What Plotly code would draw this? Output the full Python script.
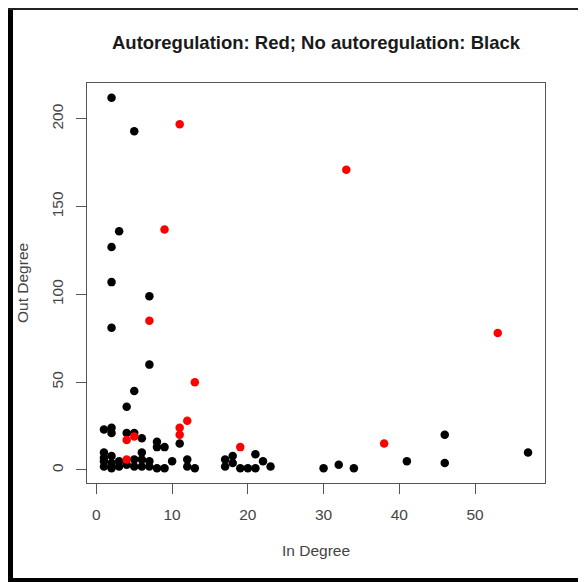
import plotly.graph_objects as go

# ---- data ----
black_in = [2, 5, 3, 2, 2, 2, 7, 7, 5, 4,
            1, 2, 2, 4, 5, 6, 8, 8, 9, 11,
            1, 1, 1, 1, 2, 2, 2, 3, 3, 4, 5, 5, 6, 6, 6, 7, 7, 8, 9, 10,
            12, 12, 13, 17, 17, 18, 18, 19, 20, 21, 21, 22, 23,
            30, 32, 34, 41, 46, 46, 57]
black_out = [212, 193, 136, 127, 107, 81, 99, 60, 45, 36,
             23, 24, 21, 21, 21, 18, 16, 13, 13, 15,
             10, 7, 5, 2, 8, 4, 1, 5, 2, 3, 6, 2, 10, 6, 2, 5, 2, 1, 1, 5,
             6, 2, 1, 6, 2, 8, 4, 1, 1, 9, 1, 5, 2,
             1, 3, 1, 5, 20, 4, 10]

red_in = [11, 9, 7, 13, 33, 53, 12, 11, 11, 19, 38, 4, 5, 4]
red_out = [197, 137, 85, 50, 171, 78, 28, 24, 20, 13, 15, 17, 19, 6]

x_ticks = [0, 10, 20, 30, 40, 50]
y_ticks = [0, 50, 100, 150, 200]

title_text = "Autoregulation: Red; No autoregulation: Black"
x_title = "In Degree"
y_title = "Out Degree"

# ---- layout geometry ----
# the page body has an 8px margin, so the figure starts at (8, 8) on screen
OFF = 8
W, H = 586 - OFF, 582 - OFF
L, R, T, B = 87 - OFF, 545 - OFF, 83 - OFF, 483 - OFF  # plot box in figure pixels
pw, ph = R - L, B - T


def px(x):
    return (x - OFF - L) / pw


def py(y):
    return (B - (y - OFF)) / ph


FONT = "Liberation Sans, Arial, sans-serif"

fig = go.Figure()
fig.add_trace(go.Scatter(x=black_in, y=black_out, mode="markers",
                         marker=dict(color="#000000", size=8.5, line=dict(width=0)),
                         showlegend=False))
fig.add_trace(go.Scatter(x=red_in, y=red_out, mode="markers",
                         marker=dict(color="#ff0000", size=8.5, line=dict(width=0)),
                         showlegend=False))

# R-style range: data range extended by 4%
xmin, xmax = min(black_in + red_in), max(black_in + red_in)
ymin, ymax = min(black_out + red_out), max(black_out + red_out)
xr = [xmin - 0.04 * (xmax - xmin), xmax + 0.04 * (xmax - xmin)]
yr = [ymin - 0.04 * (ymax - ymin), ymax + 0.04 * (ymax - ymin)]

axis_common = dict(showgrid=False, zeroline=False, showline=True, mirror=True,
                   linecolor="#555555", linewidth=1.3, ticks="outside", ticklen=10,
                   tickcolor="#555555", tickwidth=1.2,
                   tickfont=dict(family=FONT, size=15.5, color="#444444"))

fig.update_xaxes(range=xr, tickvals=x_ticks, ticktext=[str(v) for v in x_ticks],
                 ticklabelstandoff=7, **axis_common)
fig.update_yaxes(range=yr, tickvals=y_ticks, ticktext=[str(v) for v in y_ticks],
                 tickangle=-90, ticklabelstandoff=7, **axis_common)

annotations = [
    dict(text="<b>%s</b>" % title_text, x=px((87 + 545) / 2), y=py(43), xref="paper", yref="paper",
         showarrow=False, xanchor="center", yanchor="middle",
         font=dict(family=FONT, size=18.5, color="#1a1a1a")),
    dict(text=x_title, x=px((87 + 545) / 2), y=py(550), xref="paper", yref="paper",
         showarrow=False, xanchor="center", yanchor="middle",
         font=dict(family=FONT, size=15.5, color="#444444")),
    dict(text=y_title, x=px(22), y=py((83 + 483) / 2), xref="paper", yref="paper",
         showarrow=False, xanchor="center", yanchor="middle", textangle=-90,
         font=dict(family=FONT, size=15.5, color="#444444")),
]

# outer picture frame (screen coords; left/top clipped to the figure start)
frame = []
for (x0, x1, y0, y1, c) in [(8, 13, 8, 582, "#000000"),
                            (8, 586, 8, 10, "#222222"),
                            (8, 586, 578, 582, "#000000"),
                            (583, 586, 8, 582, "#111111")]:
    frame.append(dict(type="rect", xref="paper", yref="paper",
                      x0=px(x0), x1=px(x1), y0=py(y1), y1=py(y0),
                      fillcolor=c, line=dict(width=0), layer="above"))

fig.update_layout(width=W, height=H,
                  margin=dict(l=L, r=W - R, t=T, b=H - B, pad=0),
                  paper_bgcolor="white", plot_bgcolor="white",
                  annotations=annotations, shapes=frame, showlegend=False)

fig.write_html("out.html")
